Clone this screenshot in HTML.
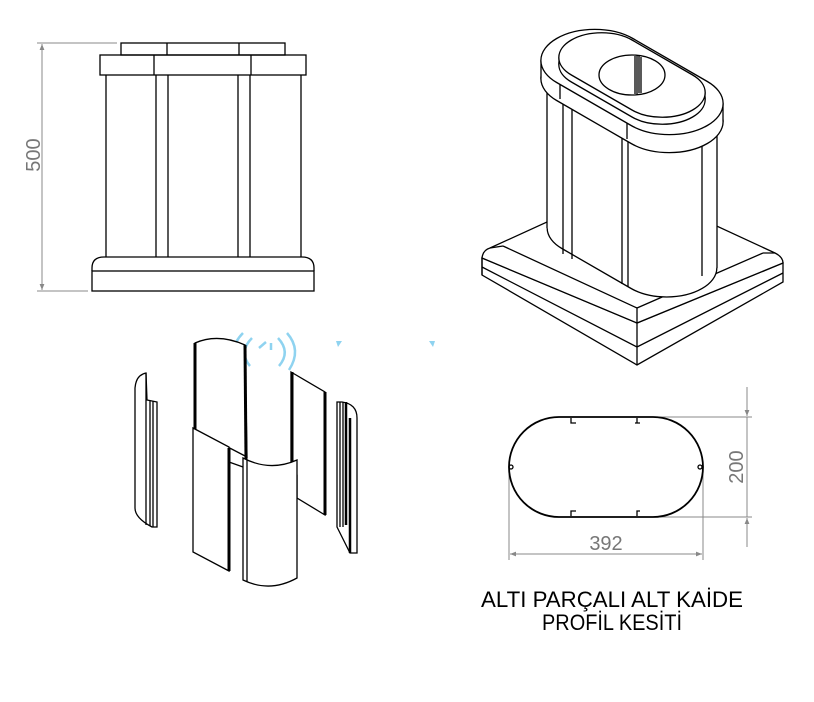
<!DOCTYPE html>
<html><head><meta charset="utf-8"><style>
html,body{margin:0;padding:0;background:#fff;width:814px;height:702px;overflow:hidden}
svg{display:block}
.l{fill:none;stroke:#000;stroke-width:1.3}
.w{fill:#fff;stroke:#000;stroke-width:1.3}
.d{fill:none;stroke:#888;stroke-width:1}
.t{font-family:"Liberation Sans",sans-serif;fill:#777}
</style></head><body>
<svg width="814" height="702" viewBox="0 0 814 702" xmlns="http://www.w3.org/2000/svg">
<defs>
<path id="col" vector-effect="non-scaling-stroke" d="M-40,-41 L40,-41 A41,41 0 0 1 40,41 L-40,41 A41,41 0 0 1 -40,-41 Z"/>
<path id="cap" vector-effect="non-scaling-stroke" d="M-43,-44 L43,-44 A44,44 0 0 1 43,44 L-43,44 A44,44 0 0 1 -43,-44 Z"/>
<path id="stp" vector-effect="non-scaling-stroke" d="M-35,-35 L35,-35 A35,35 0 0 1 35,35 L-35,35 A35,35 0 0 1 -35,-35 Z"/>
<marker id="ar" viewBox="0 0 10 10" refX="10" refY="5" markerWidth="12" markerHeight="6" orient="auto-start-reverse" markerUnits="userSpaceOnUse"><path d="M0,1 L10,5 L0,9 Z" fill="#888"/></marker>
</defs>

<!-- FRONT VIEW -->
<line class="d" x1="37" y1="43" x2="117" y2="43"/>
<line class="d" x1="37" y1="291" x2="88" y2="291"/>
<line class="d" x1="42" y1="44" x2="42" y2="290" marker-start="url(#ar)" marker-end="url(#ar)"/>
<text class="t" x="40" y="155" font-size="20" transform="rotate(-90 40 155)" text-anchor="middle">500</text>
<rect class="l" x="121" y="43" width="164" height="12"/>
<line class="l" x1="167" y1="43" x2="167" y2="55"/><line class="l" x1="239" y1="43" x2="239" y2="55"/>
<rect class="l" x="100" y="55" width="206" height="20"/>
<line class="l" x1="154" y1="55" x2="154" y2="75"/><line class="l" x1="251" y1="55" x2="251" y2="75"/>
<line class="l" x1="106" y1="75" x2="106" y2="257"/><line class="l" x1="301" y1="75" x2="301" y2="257"/>
<line class="l" x1="156" y1="75" x2="156" y2="257"/><line class="l" x1="168" y1="75" x2="168" y2="257"/>
<line class="l" x1="238" y1="75" x2="238" y2="257"/><line class="l" x1="250" y1="75" x2="250" y2="257"/>
<path class="l" d="M92,271 L92,268 Q92,257 104,257 L302,257 Q314,257 314,268 L314,271"/>
<rect class="l" x="92" y="271" width="222" height="20"/>

<!-- ISO VIEW -->
<path class="w" d="M482,258 L637,323 L783,263 L783,282 L637,365 L482,275 Z"/>
<path class="l" d="M482,258 L482,275 M637,323 L637,365 M482,267 L637,347 L783,273"/>
<path class="w" d="M482,258 Q483,250 490,248 L628,185 L775,253 Q783,257 783,263 L637,323 Z"/>
<path class="l" d="M503,246 L637,308 L763,253 M490,248 L503,246 M775,253 L763,253 M637,308 L637,323"/>
<use href="#col" class="w" transform="matrix(0.866,0.5,-0.866,0.5,632,248)"/>
<polygon points="547,80 547,228 717,268 717,120" fill="#fff"/>
<g class="l">
<line x1="547" y1="80" x2="547" y2="228"/><line x1="717" y1="120" x2="717" y2="268"/>
<line x1="563" y1="90" x2="563" y2="254"/><line x1="572" y1="95" x2="572" y2="259"/>
<line x1="622" y1="120" x2="622" y2="284"/><line x1="628" y1="123" x2="628" y2="287"/>
<line x1="702" y1="120" x2="702" y2="276"/>
</g>
<use href="#cap" class="w" transform="matrix(0.866,0.5,-0.866,0.5,632,100)"/>
<polygon points="541,60.5 541,78.5 723,121.5 723,103.5" fill="#fff"/>
<line class="l" x1="541" y1="60.5" x2="541" y2="78.5"/><line class="l" x1="723" y1="103.5" x2="723" y2="121.5"/>
<line class="l" x1="560" y1="82" x2="560" y2="99"/><line class="l" x1="627" y1="121" x2="627" y2="139"/>
<use href="#cap" class="w" transform="matrix(0.866,0.5,-0.866,0.5,632,82)"/>
<use href="#stp" class="w" transform="matrix(0.866,0.5,-0.866,0.5,632,82)"/>
<polygon points="559,57.5 559,64.5 705,99.5 705,92.5" fill="#fff"/>
<line class="l" x1="559" y1="57.5" x2="559" y2="64.5"/><line class="l" x1="705" y1="92.5" x2="705" y2="99.5"/>
<use href="#stp" class="w" transform="matrix(0.866,0.5,-0.866,0.5,632,75)"/>
<ellipse class="w" cx="632" cy="75" rx="33" ry="20"/>
<path class="l" d="M635,56 L635,94 M637,56 L637,94 M639,56 L639,93 M641,57 L641,93"/>

<!-- EXPLODED -->
<g fill="none" stroke="#8fd3f0" stroke-width="2.5">
<path d="M243,333 Q226,350 240,370"/><path d="M252,338 Q238,352 250,366"/>
<path d="M287,333 Q302,350 289,370"/><path d="M278,338 Q291,352 279,366"/>
<path d="M259,348 L266,342 M271,343 L271,350"/>
</g>
<path d="M336,341 L342,341 L338,347 Z M429,341 L435,341 L433,347 Z" fill="#8fd3f0"/>
<path class="w" d="M135,388 Q136,375 146,373 L147,400 L157,402 L157,527 L152,527 Q135,518 135,508 Z"/>
<path class="l" d="M146,373 L146,525 M150,401 L150,526 M153,401 L153,527"/>
<path class="w" d="M195,343 Q218,333 245,345 L247,457 L195,430 Z"/>
<path d="M195,343 L195,430" stroke="#000" stroke-width="3"/>
<path d="M245,345 L246,460" stroke="#000" stroke-width="3"/>
<path class="w" d="M193,428 L229,447 L229,571 L193,552 Z"/>
<path d="M229,448 L229,571" stroke="#000" stroke-width="3"/>
<path class="w" d="M291,372 L325,392 L325,515 L297,498 L297,475 L291,470 Z"/>
<path d="M292,372 L292,470 M325,392 L325,515" stroke="#000" stroke-width="3"/>
<path class="l" d="M229,462 L243,467"/>
<path class="w" d="M243,458 Q270,472 297,460 L297,578 Q270,593 243,580 Z"/>
<path class="l" d="M247,460 L247,582"/>
<path class="w" d="M337,402 L342,402 Q357,404 357,418 L357,553 L350,553 L337,527 Z"/>
<path d="M346,402 L346,525 M350,418 L350,553" stroke="#000" stroke-width="2.5"/>
<path class="l" d="M340,402 L340,527 M343,402 L343,527"/>

<!-- SECTION -->
<line class="d" x1="600" y1="417" x2="752" y2="417"/>
<line class="d" x1="660" y1="517" x2="752" y2="517"/>
<line class="d" x1="747" y1="387" x2="747" y2="416" marker-end="url(#ar)"/>
<line class="d" x1="747" y1="547" x2="747" y2="518" marker-end="url(#ar)"/>
<line class="d" x1="747" y1="417" x2="747" y2="517"/>
<text class="t" x="743" y="467" font-size="20" transform="rotate(-90 743 467)" text-anchor="middle">200</text>
<line class="d" x1="509" y1="467" x2="509" y2="560"/>
<line class="d" x1="703" y1="467" x2="703" y2="560"/>
<line class="d" x1="510" y1="554" x2="702" y2="554" marker-start="url(#ar)" marker-end="url(#ar)"/>
<text class="t" x="606" y="550" font-size="20" text-anchor="middle">392</text>
<path d="M559,417 L653,417 A50,50 0 0 1 653,517 L559,517 A50,50 0 0 1 559,417 Z" fill="none" stroke="#000" stroke-width="1.8"/>
<g class="l" stroke-width="1.2">
<path d="M571,418 L571,423 L576,423 M637,418 L637,423 M635,423 L640,423 M571,516 L571,511 L576,511 M637,516 L637,511 L640,511"/>
<circle cx="511" cy="467" r="2"/><circle cx="700" cy="467" r="2"/>
</g>

<text x="612" y="607" font-family="Liberation Sans, sans-serif" font-size="22" text-anchor="middle" textLength="262" lengthAdjust="spacingAndGlyphs">ALTI PARÇALI ALT KAİDE</text>
<text x="612" y="630" font-family="Liberation Sans, sans-serif" font-size="22" text-anchor="middle" textLength="140" lengthAdjust="spacingAndGlyphs">PROFİL KESİTİ</text>
</svg>
</body></html>
